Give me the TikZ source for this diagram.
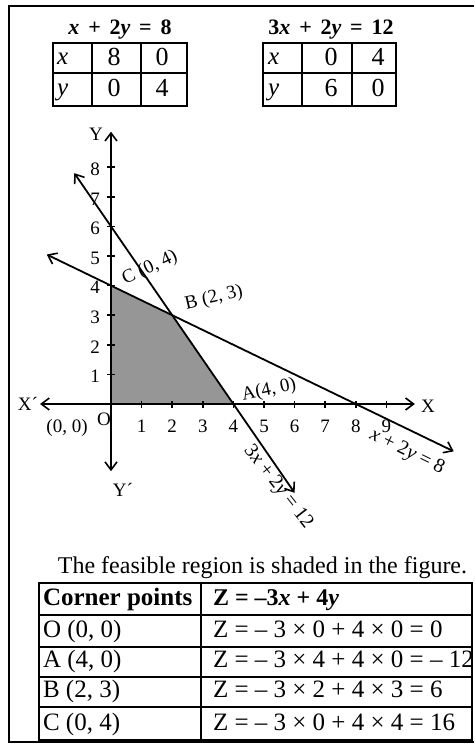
\documentclass[tikz,border=0pt]{standalone}
\usepackage{fontspec}
\setmainfont{Liberation Serif}
\usetikzlibrary{arrows.meta}
\newcommand{\myfs}[1]{\fontsize{#1}{#1}\selectfont}
\newcommand{\hsp}{\hspace{0.4em}}
\definecolor{shadegray}{RGB}{150,150,150}
\begin{document}
\begin{tikzpicture}[x=1pt,y=-1pt,
  frameline/.style={line width=2.2pt},
  tbl/.style={line width=1.3pt},
  txt/.style={inner sep=0pt, outer sep=0pt},
  cell/.style={txt, anchor=base, font=\myfs{26}},
  cellL/.style={txt, anchor=base west, font=\myfs{25}\itshape},
  btxt/.style={txt, anchor=base west, font=\myfs{25}},
  glbl/.style={txt, font=\myfs{19}},
  dblarrow/.style={line width=1.8pt,
     {Straight Barb[length=8pt,width=12pt,line width=1.6pt]}-{Straight Barb[length=8pt,width=12pt,line width=1.6pt]}},
  tickmark/.style={line width=1.5pt}
]
\useasboundingbox (0,0) rectangle (474,746);
\fill[white] (0,0) rectangle (474,746);

% frame
\draw[frameline] (474,6) -- (9,6) -- (9,742) -- (474,742);

% ---- top tables ----
\node[txt, anchor=base, font=\myfs{22}\bfseries] (h1) at (120,35)
  {\textit{x}\hsp+\hsp2\textit{y}\hsp=\hsp8};
\node[txt, anchor=base, font=\myfs{22}\bfseries] (h2) at (331,35)
  {3\textit{x}\hsp+\hsp2\textit{y}\hsp=\hsp12};

\draw[tbl] (53,43) rectangle (187,106);
\draw[tbl] (53,73) -- (187,73);
\draw[tbl] (92,43) -- (92,106);
\draw[tbl] (141,43) -- (141,106);
\node[cellL] (t1x) at (57,65) {x};
\node[cellL] (t1y) at (57,96) {y};
\node[cell] (t1a) at (114,66) {8};
\node[cell] (t1b) at (162,66) {0};
\node[cell] (t1c) at (114,97) {0};
\node[cell] (t1d) at (162,97) {4};

\draw[tbl] (263,43) rectangle (396,106);
\draw[tbl] (263,73) -- (396,73);
\draw[tbl] (302,43) -- (302,106);
\draw[tbl] (352,43) -- (352,106);
\node[cellL] (t2x) at (268,65) {x};
\node[cellL] (t2y) at (268,96) {y};
\node[cell] (t2a) at (331,66) {0};
\node[cell] (t2b) at (378,66) {4};
\node[cell] (t2c) at (331,97) {6};
\node[cell] (t2d) at (378,97) {0};

% ---- graph ----
\begin{scope}[shift={(111,404)}, x=30.6pt, y=29.6pt]
  \fill[shadegray] (0,0) -- (4,0) -- (2,3) -- (0,4) -- cycle;
  \coordinate (Xm) at (-2.32,0);
  \coordinate (Xp) at (9.93,0);
  \coordinate (Ym) at (0,-2.27);
  \coordinate (Yp) at (0,9.2);
  \coordinate (L1a) at (-2.1,5.05);
  \coordinate (L1b) at (11.2,-1.6);
  \coordinate (L2a) at (-1.2,7.8);
  \coordinate (L2b) at (6.0,-3.0);
  \draw[dblarrow] (Xm) -- (Xp);
  \draw[dblarrow] (Ym) -- (Yp);
  \draw[dblarrow] (L1a) -- (L1b);
  \draw[dblarrow] (L2a) -- (L2b);
  \foreach \i in {1,...,9} {
    \draw[tickmark] (\i,0) ++(0,-3.5pt) -- ++(0,7pt);
    \node[glbl] (xl\i) at (\i,0) [yshift=-22pt] {\i};
  }
  \foreach \i in {1,...,8} {
    \draw[tickmark] (0,\i) ++(-4pt,0) -- ++(8pt,0);
    \node[glbl] (yl\i) at (0,\i) [xshift=-16pt, yshift=-2pt] {\i};
  }
\end{scope}

\node[glbl] (lY) at (96,134) {Y};
\node[glbl] (lYp) at (123,490) {Y´};
\node[glbl] (lXm) at (28,404) {X´};
\node[glbl] (lX) at (428,406) {X};
\node[glbl] (lO) at (104,419) {O};
\node[glbl] (l00) at (67,428) {(0, 0)};
\node[glbl, rotate=25] (lC) at (150,268) {C (0, 4)};
\node[glbl, rotate=13] (lB) at (214,298) {B (2, 3)};
\node[glbl, rotate=12] (lA) at (269,390) {A(4, 0)};
\node[txt, font=\myfs{20}, rotate=-26] (le1) at (407,452) {\textit{x} + 2\textit{y} = 8};
\node[txt, font=\myfs{20}, rotate=-52] (le2) at (278,487) {3\textit{x} + 2\textit{y} = 12};

% ---- caption ----
\node[txt, anchor=base, font=\myfs{24}] (cap) at (262.5,573) {The feasible region is shaded in the figure.};

% ---- bottom table ----
\draw[tbl] (39,583) rectangle (472,740);
\foreach \yy in {615,647,677,707} \draw[tbl] (39,\yy) -- (472,\yy);
\draw[tbl] (201,583) -- (201,740);
\node[btxt, font=\myfs{25}\bfseries] (th1) at (43,605) {Corner points};
\node[btxt, font=\myfs{24}\bfseries] (th2) at (213,605) {Z = –3\textit{x} + 4\textit{y}};
\node[btxt] (r1a) at (43,637.5) {O (0, 0)};
\node[btxt] (r1b) at (213,637.5) {Z = – 3 × 0 + 4 × 0 = 0};
\node[btxt] (r2a) at (43,667.5) {A (4, 0)};
\node[btxt] (r2b) at (213,667.5) {Z = – 3 × 4 + 4 × 0 = – 12};
\node[btxt] (r3a) at (43,697.5) {B (2, 3)};
\node[btxt] (r3b) at (213,697.5) {Z = – 3 × 2 + 4 × 3 = 6};
\node[btxt] (r4a) at (43,730.5) {C (0, 4)};
\node[btxt] (r4b) at (213,730.5) {Z = – 3 × 0 + 4 × 4 = 16};
\end{tikzpicture}
\end{document}
